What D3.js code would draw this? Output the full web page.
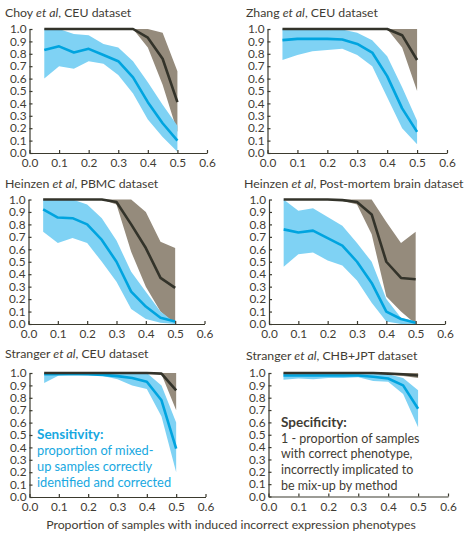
<!DOCTYPE html>
<html>
<head>
<meta charset="utf-8">
<script src="https://cdn.jsdelivr.net/npm/d3@7"></script>
<style>
  body { margin: 0; background: #fff; }
  svg { font-family: Lato, "Open Sans", sans-serif; }
  .tick-label { fill: #3f3c34; font-size: 11.8px; }
  .title { fill: #3f3c34; font-size: 12.3px; }
</style>
</head>
<body>
<div id="chart"></div>
<script>
// x positions of the simulated proportions
var xValues = [0.05, 0.10, 0.15, 0.20, 0.25, 0.30, 0.35, 0.40, 0.45, 0.50];
var xTicks = [0, 0.1, 0.2, 0.3, 0.4, 0.5, 0.6];
var yTicks = [0, 0.1, 0.2, 0.3, 0.4, 0.5, 0.6, 0.7, 0.8, 0.9, 1.0];

// panel titles: [before italic, italic, after]
var titles = [
	["Choy ", "et al", ", CEU dataset"],
	["Zhang ", "et al", ", CEU dataset"],
	["Heinzen ", "et al", ", PBMC dataset"],
	["Heinzen ", "et al", ", Post-mortem brain dataset"],
	["Stranger ", "et al", ", CEU dataset"],
	["Stranger ", "et al", ", CHB+JPT dataset"]
];

// sensitivity (blue) - one row per panel
var sensMean = [
	[0.83, 0.86, 0.81, 0.84, 0.79, 0.74, 0.61, 0.41, 0.24, 0.10],
	[0.91, 0.92, 0.92, 0.92, 0.915, 0.88, 0.81, 0.62, 0.36, 0.17],
	[0.92, 0.855, 0.85, 0.80, 0.675, 0.50, 0.26, 0.14, 0.05, 0.02],
	[0.76, 0.735, 0.75, 0.69, 0.63, 0.50, 0.33, 0.10, 0.04, 0.01],
	[0.99, 0.99, 0.99, 0.99, 0.985, 0.975, 0.96, 0.93, 0.78, 0.39],
	[0.98, 0.98, 0.98, 0.98, 0.98, 0.98, 0.97, 0.955, 0.90, 0.71]
];
var sensHigh = [
	[1.0, 1.0, 0.96, 0.95, 0.88, 0.85, 0.74, 0.57, 0.39, 0.22],
	[1.0, 1.0, 1.0, 1.0, 0.995, 0.97, 0.91, 0.78, 0.53, 0.26],
	[1.0, 1.0, 1.0, 0.96, 0.85, 0.67, 0.42, 0.26, 0.10, 0.01],
	[1.0, 0.91, 0.93, 0.86, 0.79, 0.65, 0.50, 0.20, 0.05, 0.02],
	[1.0, 1.0, 1.0, 1.0, 1.0, 1.0, 1.0, 1.0, 0.90, 0.60],
	[1.0, 1.0, 1.0, 1.0, 1.0, 1.0, 1.0, 0.99, 0.96, 0.86]
];
var sensLow = [
	[0.60, 0.70, 0.68, 0.74, 0.72, 0.63, 0.48, 0.27, 0.13, 0.01],
	[0.75, 0.79, 0.82, 0.83, 0.84, 0.79, 0.70, 0.45, 0.20, 0.07],
	[0.74, 0.65, 0.69, 0.65, 0.50, 0.34, 0.12, 0.04, 0.01, 0.0],
	[0.46, 0.56, 0.575, 0.51, 0.47, 0.35, 0.17, 0.02, 0.0, 0.0],
	[0.92, 0.98, 0.985, 0.98, 0.975, 0.95, 0.90, 0.87, 0.65, 0.20],
	[0.945, 0.955, 0.95, 0.96, 0.96, 0.965, 0.935, 0.93, 0.83, 0.56]
];

// specificity (dark) - one row per panel
var specMean = [
	[1, 1, 1, 1, 1, 1, 1, 0.93, 0.76, 0.41],
	[1, 1, 1, 1, 1, 1, 1, 1, 0.95, 0.75],
	[1, 1, 1, 1, 1, 0.98, 0.80, 0.61, 0.37, 0.29],
	[1, 1, 1, 1, 0.995, 0.98, 0.88, 0.50, 0.37, 0.36],
	[1, 1, 1, 1, 1, 1, 1, 1, 0.995, 0.86],
	[1, 1, 1, 1, 1, 1, 1, 0.995, 0.99, 0.98]
];
var specHigh = [
	[1, 1, 1, 1, 1, 1, 1, 1, 0.97, 0.66],
	[1, 1, 1, 1, 1, 1, 1, 1, 1, 1],
	[1, 1, 1, 1, 1, 1, 1, 0.90, 0.66, 0.61],
	[1, 1, 1, 1, 1, 1, 1, 0.82, 0.65, 0.74],
	[1, 1, 1, 1, 1, 1, 1, 1, 1, 1],
	[1, 1, 1, 1, 1, 1, 1, 1, 1, 1]
];
var specLow = [
	[1, 1, 1, 1, 1, 1, 1, 0.85, 0.55, 0.17],
	[1, 1, 1, 1, 1, 1, 1, 1, 0.85, 0.50],
	[1, 1, 1, 1, 1, 0.96, 0.58, 0.30, 0.10, 0.0],
	[1, 1, 1, 1, 0.99, 0.96, 0.72, 0.22, 0.10, 0.0],
	[1, 1, 1, 1, 1, 1, 1, 1, 0.99, 0.70],
	[1, 1, 1, 1, 1, 1, 1, 0.99, 0.975, 0.96]
];

var xTitle = "Proportion of samples with induced incorrect expression phenotypes";
var sensLegend = ["Sensitivity:", "proportion of mixed-", "up samples correctly", "identified and corrected"];
var specLegend = ["Specificity:", "1 - proportion of samples", "with correct phenotype,", "incorrectly implicated to", "be mix-up by method"];

// layout of the six panels (pixel boxes)
var panels = [
	{x0: 29.5, x1: 207, y0: 153, y1: 29, tx: 5, ty: 17},
	{x0: 267.5, x1: 447, y0: 153, y1: 29, tx: 246, ty: 17},
	{x0: 28.5, x1: 204.5, y0: 324, y1: 199.5, tx: 5, ty: 188},
	{x0: 269, x1: 445, y0: 324, y1: 199.5, tx: 244, ty: 188},
	{x0: 29.5, x1: 205.5, y0: 497, y1: 373, tx: 5, ty: 358},
	{x0: 268.5, x1: 448, y0: 496.5, y1: 373, tx: 246, ty: 360}
];

var colors = {
	text: '#3f3c34',
	axis: '#3b3a2e',
	blueLine: '#00a4df',
	blueBand: '#7fd2f4',
	darkLine: '#33332a',
	brownBand: '#958b7c',
	sensText: '#17a8e1'
};

var svg = d3.select('#chart').append('svg')
	.attr('width', 468)
	.attr('height', 534);

panels.forEach(function(p, i) {
	var x = d3.scaleLinear().domain([0, 0.6]).range([p.x0, p.x1]);
	var y = d3.scaleLinear().domain([0, 1]).range([p.y0, p.y1]);
	var g = svg.append('g').attr('class', 'panel');

	var band = d3.area()
		.x(function(d) { return x(d[0]); })
		.y0(function(d) { return y(d[1]); })
		.y1(function(d) { return y(d[2]); });
	var line = d3.line()
		.x(function(d) { return x(d[0]); })
		.y(function(d) { return y(d[1]); });

	var specBand = xValues.map(function(v, j) { return [v, specLow[i][j], specHigh[i][j]]; });
	var sensBand = xValues.map(function(v, j) { return [v, sensLow[i][j], sensHigh[i][j]]; });

	g.append('path').attr('d', band(specBand)).attr('fill', colors.brownBand);
	g.append('path').attr('d', band(sensBand)).attr('fill', colors.blueBand);

	g.append('path')
		.attr('d', line(xValues.map(function(v, j) { return [v, sensMean[i][j]]; })))
		.attr('fill', 'none').attr('stroke', colors.blueLine)
		.attr('stroke-width', 2.6).attr('stroke-linejoin', 'round');
	g.append('path')
		.attr('d', line(xValues.map(function(v, j) { return [v, specMean[i][j]]; })))
		.attr('fill', 'none').attr('stroke', colors.darkLine)
		.attr('stroke-width', 2.6).attr('stroke-linejoin', 'round');

	// axes, ticks inward
	var xa = g.append('g').attr('transform', 'translate(0,' + p.y0 + ')')
		.call(d3.axisBottom(x).tickValues(xTicks).tickSizeInner(-3).tickSizeOuter(0)
			.tickPadding(6).tickFormat(d3.format('.1f')));
	var ya = g.append('g').attr('transform', 'translate(' + p.x0 + ',0)')
		.call(d3.axisLeft(y).tickValues(yTicks).tickSizeInner(-3).tickSizeOuter(0)
			.tickPadding(3).tickFormat(d3.format('.1f')));
	[xa, ya].forEach(function(a) {
		a.attr('font-family', null).attr('font-size', null);
		a.select('.domain').attr('stroke', colors.axis).attr('stroke-width', 1.2);
		a.selectAll('.tick line').attr('stroke', colors.axis).attr('stroke-width', 1.2);
		a.selectAll('.tick text').attr('class', 'tick-label').attr('fill', colors.text);
	});

	var t = g.append('text').attr('class', 'title').attr('x', p.tx).attr('y', p.ty);
	t.append('tspan').text(titles[i][0]);
	t.append('tspan').attr('font-style', 'italic').text(titles[i][1]);
	t.append('tspan').text(titles[i][2]);
});

// legends
var sl = svg.append('g').attr('fill', colors.sensText);
sensLegend.forEach(function(s, k) {
	sl.append('text')
		.attr('x', 37)
		.attr('y', 439 + k * 16)
		.attr('font-weight', k === 0 ? 'bold' : null)
		.attr('font-size', k === 0 ? 13.5 : 12.8)
		.text(s);
});
var pl = svg.append('g').attr('fill', colors.text);
specLegend.forEach(function(s, k) {
	pl.append('text')
		.attr('x', 281)
		.attr('y', 427 + k * 15.7)
		.attr('font-weight', k === 0 ? 'bold' : null)
		.attr('font-size', k === 0 ? 13.5 : 12.5)
		.text(s);
});

svg.append('text')
	.attr('x', 231)
	.attr('y', 529)
	.attr('text-anchor', 'middle')
	.attr('fill', colors.text)
	.attr('font-size', 12.3)
	.text(xTitle);
</script>
</body>
</html>
